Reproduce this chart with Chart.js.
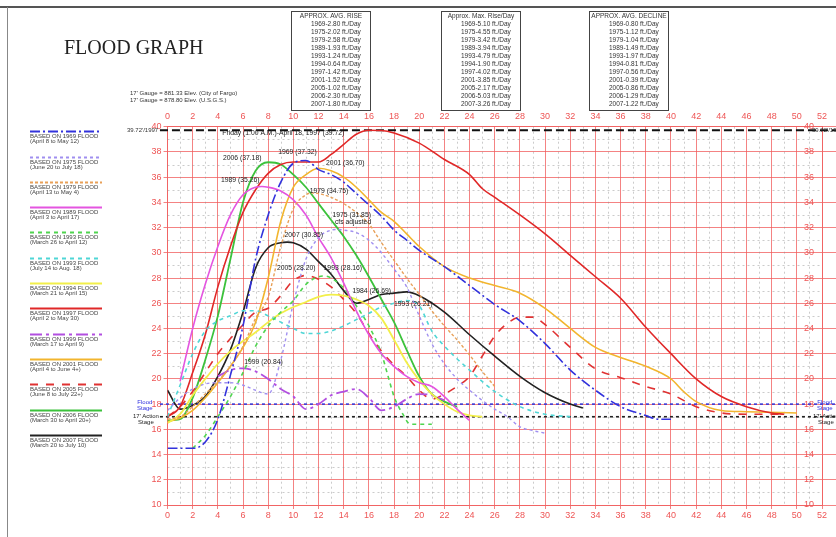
<!DOCTYPE html>
<html>
<head>
<meta charset="utf-8">
<title>Flood Graph</title>
<script src="https://cdn.jsdelivr.net/npm/chart.js@4.4.1/dist/chart.umd.min.js"></script>
<style>
  body { margin: 0; background: #fff; }
  #wrap { position: relative; width: 836px; height: 537px; overflow: hidden; font-family: "Liberation Sans", Arial, sans-serif; color: #333; }
  #graph { position: absolute; left: 0; top: 0; }
  .frameTop { position: absolute; left: 0; top: 6px; width: 836px; border-top: 2px solid #555; }
  .frameLeft { position: absolute; left: 7px; top: 7px; height: 530px; border-left: 1px solid #888; }
  h1 { position: absolute; left: 64px; top: 36px; margin: 0; font: 20px "Liberation Serif", "Times New Roman", serif; color: #222; white-space: nowrap; }
  .small { position: absolute; font-size: 6px; line-height: 7px; white-space: nowrap; }
  .box { position: absolute; top: 11px; width: 78px; height: 98px; border: 1.5px solid #444; font-size: 6.5px; line-height: 8px; }
  .box .hd { text-align: center; white-space: nowrap; }
  .box .row { padding-left: 19px; white-space: nowrap; }
  .leg { position: absolute; left: 30px; width: 75px; font-size: 6px; line-height: 5px; color: #444; }
  .leg svg { display: block; }
  .leg div { white-space: nowrap; }
</style>
</head>
<body>
<div id="wrap">
  <canvas id="graph" width="836" height="537"></canvas>
  <div class="frameTop"></div>
  <div class="frameLeft"></div>
  <h1>FLOOD GRAPH</h1>
  <div class="small" style="left:130px;top:90px">17' Gauge = 881.33 Elev. (City of Fargo)<br>17' Gauge = 878.80 Elev. (U.S.G.S.)</div>
  <div class="small" style="left:127px;top:127px">39.72'/1997</div>
  <div class="small" style="left:812px;top:127px">39.72'/199</div>
  <div class="small" style="left:137px;top:399px;line-height:6px;color:#3030e0;text-align:center">Flood<br>Stage</div>
  <div class="small" style="left:133px;top:413px;line-height:6px;color:#222;text-align:center">17' Action<br>Stage</div>
  <div class="small" style="left:817px;top:399px;line-height:6px;color:#3030e0;text-align:center">Flood<br>Stage</div>
  <div class="small" style="left:813px;top:413px;line-height:6px;color:#222;text-align:center">17' Action<br>Stage</div>
  <div id="boxes"></div>
  <div id="legend"></div>
</div>
<script>
// flood crests, [day, stage in ft]
var flood1969 = [[0,14.5],[1,14.5],[2,14.5],[3,15.0],[4,16.8],[5,20.3],[6,24.2],[7,29.5],[8,33.0],[9,35.6],[10,37.1],[11,37.32],[12,36.6],[13,36.2],[14,35.6],[15,34.7],[16,33.8],[17,32.9],[18,31.8],[19,31.0],[20,30.2],[22,28.9],[24,27.4],[26,25.9],[28,24.6],[30,22.8],[32,20.7],[34,19.1],[36,17.8],[38,17.1],[39,16.8],[40,16.8]];
var flood1975 = [[0,17.5],[1,18.5],[2,19.2],[3,19.6],[4,19.7],[5,19.7],[6,19.5],[7,19.1],[8,18.8],[9,21.5],[10,26.0],[11,29.5],[12,31.2],[13,31.8],[13.5,31.85],[14,31.8],[15,31.6],[16,31.0],[17,30.0],[18,28.7],[19,27.3],[20,25.0],[21,22.8],[22,21.2],[23,20.0],[24,19.1],[25,18.3],[26,17.6],[27,17.0],[28,16.2],[29,15.9],[30,15.7]];
var flood1979 = [[0,16.8],[1,17.0],[2,17.8],[3,18.8],[4,19.8],[5,21.0],[6,22.6],[7,24.8],[8,26.5],[9,30.5],[10,33.5],[11,34.6],[11.5,34.75],[12,34.7],[13,34.4],[14,33.9],[15,33.2],[16,32.3],[17,30.8],[18,29.4],[19,28.0],[20,26.7],[21,25.4],[22,24.2],[23,23.1],[24,21.9],[25,20.6],[26,19.4]];
var flood1989 = [[1,19.8],[2,24.0],[3,27.5],[4,30.5],[5,33.0],[6,34.6],[7,35.2],[7.5,35.26],[8,35.2],[9,34.9],[10,34.2],[11,33.0],[12,31.2],[13,29.6],[14,27.6],[15,25.4],[16,23.5],[17,22.0],[18,21.0],[19,20.2],[20,19.7],[21,19.4],[22,18.6],[23,17.6],[24,16.7]];
var flood1993spring = [[2,14.5],[3,15.5],[4,17.0],[5,18.6],[6,20.5],[7,22.6],[8,24.2],[9,25.3],[10,26.2],[11,27.5],[12,28.1],[12.5,28.16],[13,28.0],[14,27.2],[15,25.8],[16,24.2],[17,22.0],[17.5,20.3],[18,18.6],[18.7,17.2],[19.3,16.4],[21,16.4]];
var flood1993summer = [[0,17.0],[1,19.5],[2,22.0],[3,23.8],[4,24.6],[5,25.0],[6,25.4],[7,25.4],[8,25.0],[9,24.5],[10,24.0],[11,23.6],[12,23.6],[13,23.8],[14,24.2],[15,24.7],[16,25.2],[17,25.7],[18,26.0],[19,26.21],[20,25.8],[21,23.8],[22,22.6],[23,21.6],[24,20.7],[25,19.8],[26,19.0],[28,17.8],[30,17.2],[32,17.0]];
var flood1994 = [[0,16.5],[1,17.2],[2,18.7],[3,20.0],[4,21.2],[5,22.2],[6,23.0],[7,23.7],[8,24.5],[9,25.2],[10,25.7],[11,26.1],[12,26.5],[13,26.69],[14,26.6],[15,26.3],[16,25.8],[17,24.8],[18,23.1],[19,21.3],[20,19.9],[21,18.8],[22,18.0],[23,17.4],[24,17.1],[25,17.0]];
var flood1997 = [[0,17.0],[1,17.8],[2,20.5],[3,23.5],[4,27.3],[5,30.5],[6,33.2],[7,35.0],[8,36.3],[9,37.0],[10,37.2],[11,37.2],[12,37.2],[13,37.8],[14,38.6],[15,39.4],[16,39.72],[17,39.7],[18,39.5],[20,38.7],[22,37.4],[24,36.2],[25,35.1],[26,34.4],[28,33.0],[30,31.5],[32,29.8],[34,28.1],[36,26.4],[38,24.1],[40,22.0],[42,20.0],[44,18.6],[46,17.8],[48,17.3],[49,17.2]];
var flood1999 = [[4,20.2],[5,20.7],[6,20.84],[7,20.6],[8,20.0],[9,19.2],[10,18.6],[11,17.6],[12,18.0],[13,18.7],[14,19.0],[15,19.2],[16,18.5],[17,17.5],[18,17.8],[19,18.4],[20,18.8],[21,18.7],[22,18.3]];
var flood2001 = [[0,16.6],[1,16.9],[2,17.5],[3,18.5],[4,19.7],[5,21.0],[6,22.5],[7,24.5],[8,28.0],[9,32.5],[10,35.2],[11,36.2],[12,36.7],[13,36.5],[14,36.0],[15,35.2],[16,34.2],[17,33.2],[18,32.5],[19,31.5],[20,30.5],[22,28.9],[24,28.0],[26,27.4],[28,26.8],[30,25.6],[32,24.0],[34,22.5],[36,21.7],[38,21.0],[40,20.0],[41,19.0],[42,18.2],[44,17.5],[46,17.4],[50,17.3]];
var flood2005 = [[0,17.0],[1,17.8],[2,19.0],[3,20.5],[4,22.0],[5,23.2],[6,24.3],[7,25.3],[8,25.6],[9,26.6],[10,27.8],[11,28.2],[12,27.9],[13,27.3],[14,26.3],[15,25.2],[16,23.6],[17,22.2],[18,21.1],[19,20.2],[20,19.1],[21,18.4],[22,18.8],[23,19.4],[24,20.2],[25,21.8],[26,23.4],[27,24.4],[28,24.9],[29,24.9],[30,24.3],[32,22.5],[34,20.8],[36,20.1],[38,19.4],[40,18.8],[42,17.8],[44,17.3],[46,17.2],[49,17.2]];
var flood2006 = [[0,16.7],[1,16.8],[2,18.5],[3,21.5],[4,25.0],[5,29.5],[6,34.0],[7,36.5],[8,37.18],[9,37.0],[10,36.2],[11,35.2],[12,33.9],[13,32.6],[14,31.3],[15,29.8],[16,28.1],[17,26.3],[18,24.5],[19,22.3],[20,20.2],[21,18.8],[22,18.2],[23,17.8]];
var flood2007 = [[0,19.1],[1,17.6],[2,17.9],[3,18.6],[4,20.2],[5,22.3],[6,25.3],[7,28.8],[8,30.4],[9,30.8],[9.5,30.85],[10,30.8],[11,30.3],[12,29.3],[13,28.3],[14,27.0],[15,26.0],[16,26.3],[17,26.7],[18,26.8],[19,26.9],[20,26.6],[22,25.3],[24,23.5],[26,21.8],[28,20.2],[30,18.9],[32,18.0],[33,17.7]];

var recordStage = 39.72;
var floodStage = 18;
var actionStage = 17;

var legendYears = ['1969', '1975', '1979', '1989', '1993', '1993', '1994', '1997', '1999', '2001', '2005', '2006', '2007'];
var legendRanges = ['(April 8 to May 12)', '(June 20 to July 18)', '(April 13 to May 4)', '(April 3 to April 17)', '(March 26 to April 12)', '(July 14 to Aug. 18)', '(March 21 to April 15)', '(April 2 to May 30)', '(March 17 to April 9)', '(April 4 to June 4+)', '(June 8 to July 22+)', '(March 30 to April 20+)', '(March 20 to July 10)'];

var riseYears = ['1969', '1975', '1979', '1989', '1993', '1994', '1997', '2001', '2005', '2006', '2007'];
var avgRise = ['2.80', '2.02', '2.58', '1.93', '1.24', '0.64', '1.42', '1.52', '1.02', '2.30', '1.80'];
var maxRise = ['5.10', '4.55', '3.42', '3.94', '4.79', '1.90', '4.02', '3.85', '2.17', '5.03', '3.26'];
var avgDecline = ['0.80', '1.12', '1.04', '1.49', '1.97', '0.81', '0.56', '0.39', '0.86', '1.29', '1.22'];

var dayTicks = { min: 0, max: 52, step: 2 };
var stageTicks = { min: 10, max: 40, step: 2 };

// text written on the graph, anchored at [day, stage]
var noteText = ['Friday (1:00 A.M.)-April 18, 1997 (39.72)', '2006 (37.18)', '1969 (37.32)', '2001 (36.70)', '1989 (35.26)', '1979 (34.75)', '1975 (31.85)', 'cfs adjusted', '2007 (30.85)', '2005 (28.20)', '1993 (28.16)', '1984 (26.69)', '1993 (26.21)', '1999 (20.84)'];
var noteDay = [4.35, 4.4, 8.8, 12.6, 4.25, 11.3, 13.1, 13.3, 9.3, 8.7, 12.4, 14.7, 18.0, 6.1];
var noteStage = [39.5, 37.5, 38.0, 37.1, 35.8, 34.9, 33.0, 32.4, 31.4, 28.8, 28.8, 27.0, 25.9, 21.3];

function pts(list) {
    return list.map(function (p) { return { x: p[0], y: p[1] }; });
}

var RED = '#ee5555';
var GRID = 'rgba(240,90,90,0.75)';

var floods = [
    { data: flood1969, color: '#3232dc', dash: [10, 3, 2, 3], width: 1.6 },
    { data: flood1975, color: '#a08ff0', dash: [3, 3], width: 1.4 },
    { data: flood1979, color: '#e8a058', dash: [3, 2], width: 1.4 },
    { data: flood1989, color: '#e455e0', dash: [], width: 1.6 },
    { data: flood1993spring, color: '#4fd44f', dash: [4, 4], width: 1.6 },
    { data: flood1993summer, color: '#4fd6d6', dash: [4, 4], width: 1.6 },
    { data: flood1994, color: '#f2ef4a', dash: [], width: 1.8 },
    { data: flood1997, color: '#e02828', dash: [], width: 1.6 },
    { data: flood1999, color: '#b24fe0', dash: [12, 4, 3, 4], width: 1.8 },
    { data: flood2001, color: '#f2b52e', dash: [], width: 1.6 },
    { data: flood2005, color: '#e03232', dash: [8, 8], width: 1.6 },
    { data: flood2006, color: '#3cc23c', dash: [], width: 1.8 },
    { data: flood2007, color: '#222222', dash: [], width: 1.6 }
];

var datasets = floods.map(function (f, i) {
    return {
        label: legendYears[i] + ' ' + legendRanges[i],
        data: pts(f.data),
        borderColor: f.color,
        borderDash: f.dash,
        borderWidth: f.width,
        pointRadius: 0,
        cubicInterpolationMode: 'monotone',
        fill: false
    };
});

function stageLine(value, color, dash, width) {
    return {
        label: '',
        data: [{ x: -0.6, y: value }, { x: 53.2, y: value }],
        borderColor: color,
        borderDash: dash,
        borderWidth: width,
        pointRadius: 0,
        clip: false
    };
}
datasets.push(stageLine(recordStage, '#111', [8, 4], 2));
datasets.push(stageLine(floodStage, '#3a3ad8', [3, 3], 1.6));
datasets.push(stageLine(actionStage, '#222', [3, 3], 1.6));

// dotted one-unit grid between the red lines
var minorGrid = {
    id: 'minorGrid',
    beforeDatasetsDraw: function (chart) {
        var ctx = chart.ctx, a = chart.chartArea;
        var xs = chart.scales.x, ys = chart.scales.y;
        ctx.save();
        ctx.strokeStyle = 'rgba(140,140,140,0.45)';
        ctx.lineWidth = 1;
        ctx.setLineDash([2, 3]);
        for (var d = dayTicks.min + 1; d < dayTicks.max; d += 2) {
            var px = Math.round(xs.getPixelForValue(d)) + 0.5;
            ctx.beginPath(); ctx.moveTo(px, a.top); ctx.lineTo(px, a.bottom); ctx.stroke();
        }
        for (var s = stageTicks.min + 1; s < stageTicks.max; s += 2) {
            var py = Math.round(ys.getPixelForValue(s)) + 0.5;
            ctx.beginPath(); ctx.moveTo(a.left, py); ctx.lineTo(a.right, py); ctx.stroke();
        }
        ctx.restore();
    }
};

var notes = {
    id: 'notes',
    afterDatasetsDraw: function (chart) {
        var ctx = chart.ctx;
        ctx.save();
        ctx.font = '6.8px "Liberation Sans", Arial, sans-serif';
        ctx.fillStyle = '#222';
        ctx.textAlign = 'left';
        ctx.textBaseline = 'middle';
        for (var i = 0; i < noteText.length; i++) {
            ctx.fillText(noteText[i], chart.scales.x.getPixelForValue(noteDay[i]), chart.scales.y.getPixelForValue(noteStage[i]));
        }
        ctx.restore();
    }
};

function dayAxis(position, h, grid) {
    return {
        type: 'linear',
        position: position,
        min: dayTicks.min,
        max: dayTicks.max,
        afterFit: function (s) { s.height = h; },
        ticks: { stepSize: dayTicks.step, color: RED, font: { size: 9 }, padding: 1, maxRotation: 0, autoSkip: false },
        grid: { display: grid, color: GRID, lineWidth: 1, tickLength: 4 },
        border: { color: GRID }
    };
}

Chart.defaults.font.family = '"Liberation Sans", Arial, sans-serif';

new Chart(document.getElementById('graph'), {
    type: 'line',
    data: { datasets: datasets },
    options: {
        responsive: false,
        animation: false,
        devicePixelRatio: 1,
        layout: { padding: { left: 137.5, right: 0, top: 104.7, bottom: 12 } },
        plugins: { legend: { display: false }, tooltip: { enabled: false } },
        scales: {
            x: dayAxis('bottom', 20, true),
            xTop: dayAxis('top', 22, false),
            y: {
                type: 'linear',
                position: 'left',
                min: stageTicks.min,
                max: stageTicks.max,
                afterFit: function (s) { s.width = 30; },
                ticks: { stepSize: stageTicks.step, color: RED, font: { size: 9 }, padding: 2 },
                grid: { color: GRID, lineWidth: 1, tickLength: 4 },
                border: { color: GRID }
            },
            yRight: {
                type: 'linear',
                position: 'right',
                min: stageTicks.min,
                max: stageTicks.max,
                afterFit: function (s) { s.width = 14; },
                // labels pulled back over the last grid column, as on the drawing
                ticks: { stepSize: stageTicks.step, color: RED, font: { size: 9 }, mirror: true, padding: -8 },
                grid: { drawOnChartArea: false, color: GRID, lineWidth: 1, tickLength: 14 },
                border: { color: GRID }
            }
        }
    },
    plugins: [minorGrid, notes]
});

// rate boxes
function makeBox(left, title, values) {
    var html = '<div class="hd">' + title + '</div>';
    for (var i = 0; i < riseYears.length; i++) {
        html += '<div class="row">' + riseYears[i] + '-' + values[i] + ' ft./Day</div>';
    }
    var div = document.createElement('div');
    div.className = 'box';
    div.style.left = left + 'px';
    div.innerHTML = html;
    document.getElementById('boxes').appendChild(div);
}
makeBox(291, 'APPROX. AVG. RISE', avgRise);
makeBox(441, 'Approx. Max. Rise/Day', maxRise);
makeBox(589, 'APPROX. AVG. DECLINE', avgDecline);

// legend built from the dataset styles
var legendBox = document.getElementById('legend');
floods.forEach(function (f, i) {
    var lineY = 131.7 + 25.3 * i;
    var item = document.createElement('div');
    item.className = 'leg';
    item.style.top = (lineY - 1.5) + 'px';
    item.innerHTML =
        '<svg width="72" height="3"><line x1="0" y1="1.5" x2="72" y2="1.5" stroke="' + f.color +
        '" stroke-width="2" stroke-dasharray="' + f.dash.join(' ') + '"/></svg>' +
        '<div style="margin-top:1px">BASED ON ' + legendYears[i] + ' FLOOD</div>' +
        '<div>' + legendRanges[i] + '</div>';
    legendBox.appendChild(item);
});
</script>
</body>
</html>
